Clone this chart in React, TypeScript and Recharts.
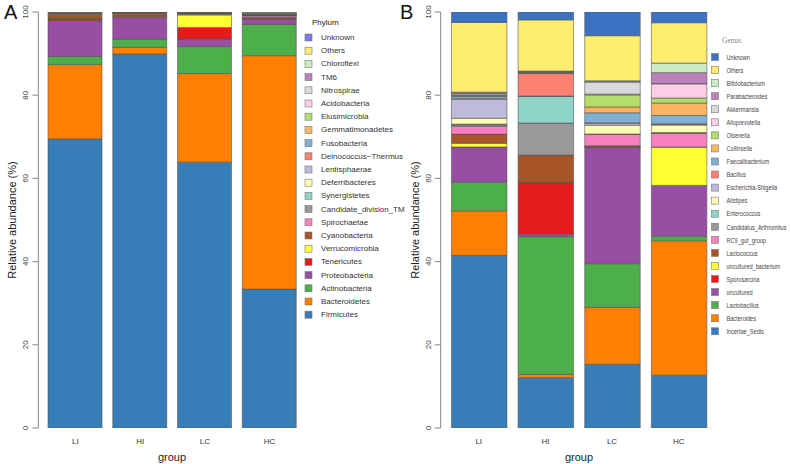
import { Bar, BarChart, XAxis, YAxis } from "recharts";

const groups = ["LI", "HI", "LC", "HC"];
const yTicks = [0, 20, 40, 60, 80, 100];

// phylum level, stacked bottom -> top
const phyla = [
  "Firmicutes", "Bacteroidetes", "Actinobacteria", "Proteobacteria", "Tenericutes",
  "Verrucomicrobia", "Cyanobacteria", "Spirochaetae", "Candidate_division_TM", "Synergistetes",
  "Deferribacteres", "Lentisphaerae", "Deinococcus\u2212Thermus", "Fusobacteria", "Gemmatimonadetes",
  "Elusimicrobia", "Acidobacteria", "Nitrospirae", "TM6", "Chloroflexi", "Others", "Unknown",
];
const phylumColors = [
  "#377eb8", "#ff7f00", "#4daf4a", "#984ea3", "#e41a1c",
  "#ffff33", "#a65628", "#f781bf", "#999999", "#8dd3c7",
  "#ffffb3", "#bebada", "#fb8072", "#80b1d3", "#fdb462",
  "#b3de69", "#fccde5", "#d9d9d9", "#bc80bd", "#ccebc5", "#ffed6f", "#7b7bec",
];
const phylumLI = [69.5, 17.9, 1.9, 8.6, 0.6, 0.05, 0.9, 0.15, 0.1, 0.05, 0.1, 0.02, 0.01, 0.01, 0.01, 0.01, 0.01, 0.01, 0.01, 0.01, 0.05, 0.01];
const phylumHI = [89.9, 1.6, 2.0, 5.2, 0.3, 0.05, 0.6, 0.1, 0.1, 0.02, 0.02, 0.01, 0.01, 0.01, 0.01, 0.01, 0.01, 0.01, 0.01, 0.01, 0.02, 0.01];
const phylumLC = [63.9, 21.3, 6.5, 1.8, 2.8, 3.0, 0.1, 0.2, 0.15, 0.05, 0.05, 0.01, 0.01, 0.01, 0.01, 0.01, 0.01, 0.01, 0.01, 0.01, 0.05, 0.01];
const phylumHC = [33.4, 56.1, 7.5, 1.2, 0.3, 0.05, 0.1, 0.4, 0.2, 0.05, 0.05, 0.02, 0.02, 0.02, 0.02, 0.02, 0.05, 0.05, 0.05, 0.05, 0.3, 0.02];

// genus level, stacked bottom -> top
const genera = [
  "Incertae_Sedis", "Bacteroides", "Lactobacillus", "uncultured", "Sporosarcina",
  "uncultured_bacterium", "Lactococcus", "RC9_gut_group", "Candidatus_Arthromitus", "Enterococcus",
  "Alistipes", "Escherichia-Shigella", "Bacillus", "Faecalibacterium", "Collinsella",
  "Olsenella", "Alloprevotella", "Akkermansia", "Parabacteroides", "Bifidobacterium", "Others", "Unknown",
];
const genusColors = [
  "#377eb8", "#ff7f00", "#4daf4a", "#984ea3", "#e41a1c",
  "#ffff33", "#a65628", "#f781bf", "#999999", "#8dd3c7",
  "#ffffb3", "#bebada", "#fb8072", "#80b1d3", "#fdb462",
  "#b3de69", "#fccde5", "#d9d9d9", "#bc80bd", "#ccebc5", "#ffed6f", "#3b72c2",
];
const genusLI = [41.5, 10.7, 6.9, 8.4, 0.05, 0.9, 2.2, 1.9, 0.3, 0.2, 1.4, 4.6, 0.1, 0.5, 0.1, 0.2, 0.1, 0.3, 0.2, 0.2, 16.75, 2.5];
const genusHI = [12.1, 0.8, 33.1, 0.6, 12.4, 0.1, 6.4, 0.1, 7.7, 6.4, 0.05, 0.05, 5.4, 0.1, 0.1, 0.05, 0.05, 0.1, 0.1, 0.1, 12.3, 1.9];
const genusLC = [15.3, 13.7, 10.5, 28.0, 0.02, 0.05, 0.3, 2.7, 0.05, 0.05, 2.1, 0.5, 0.1, 2.4, 1.4, 2.9, 0.2, 2.9, 0.1, 0.2, 10.83, 5.7];
const genusHC = [12.7, 32.3, 1.1, 12.2, 0.02, 9.2, 0.05, 3.3, 0.05, 0.1, 1.8, 0.2, 0.1, 2.0, 3.0, 1.2, 3.4, 0.1, 2.6, 2.3, 9.7, 2.58];

const FONT = "'Liberation Sans', Arial, sans-serif";

function XTick(props: any) {
  const { x, payload } = props;
  return (
    <text x={x} y={444} textAnchor="middle" fontSize={8} fill="#333" fontFamily={FONT}>
      {payload.value}
    </text>
  );
}

function YTick(props: any) {
  const { x, y, payload } = props;
  const tx = x - 2;
  return (
    <text x={tx} y={y} textAnchor="middle" fontSize={8} fill="#444" fontFamily={FONT}
      transform={`rotate(-90, ${tx}, ${y})`}>
      {payload.value}
    </text>
  );
}

function Panel(props: any) {
  const { left, width, axisX, bandStart, barSize, names, colors, values } = props;
  const data = groups.map((g, gi) => {
    const row: Record<string, any> = { group: g };
    names.forEach((n: string, i: number) => (row[n] = values[gi][i]));
    return row;
  });
  return (
    <div style={{ position: "absolute", left, top: 0 }}>
      <BarChart width={width} height={464} data={data} barSize={barSize}
        margin={{ top: 12, right: 0, bottom: 0, left: axisX - left - 30 }}>
        <XAxis dataKey="group" axisLine={false} tickLine={false} height={36} interval={0}
          padding={{ left: bandStart - axisX, right: 0 }} tick={<XTick />} />
        <YAxis type="number" domain={[0, 100]} ticks={yTicks} width={30} allowDataOverflow
          stroke="#888" tickSize={6} tick={<YTick />} />
        {names.map((n: string, i: number) => (
          <Bar key={n} dataKey={n} stackId="s" fill={colors[i]} stroke="#555" strokeWidth={0.6}
            isAnimationActive={false} />
        ))}
      </BarChart>
    </div>
  );
}

function LegendBlock(props: any) {
  const { x, textX, titleX, titleY, firstY, step, title, titleStyle, names, colors, fontSize, squeeze, textFill } = props;
  const order = names.map((n: string, i: number) => i).reverse();
  return (
    <g>
      <text x={titleX} y={titleY} dominantBaseline="central" {...titleStyle}>{title}</text>
      {order.map((i: number, k: number) => {
        const y = firstY + k * step;
        return (
          <g key={names[i]}>
            <rect x={x} y={y - 3.5} width={7} height={7} fill={colors[i]} stroke="#777" strokeWidth={0.6} />
            <text x={0} y={0} dominantBaseline="central" fontSize={fontSize}
              transform={`translate(${textX}, ${y}) scale(${squeeze}, 1)`}
              fill={textFill} fontFamily={FONT}>{names[i]}</text>
          </g>
        );
      })}
    </g>
  );
}

export default function App() {
  return (
    <div style={{ position: "absolute", left: 0, top: 0, width: 791, height: 464, background: "#fff", overflow: "hidden" }}>
      <Panel left={0} width={302} axisX={38.3} bandStart={43} barSize={54}
        names={phyla} colors={phylumColors} values={[phylumLI, phylumHI, phylumLC, phylumHC]} />
      <Panel left={400} width={312} axisX={440.7} bandStart={445.45} barSize={55.5}
        names={genera} colors={genusColors} values={[genusLI, genusHI, genusLC, genusHC]} />
      <svg width={791} height={464} style={{ position: "absolute", left: 0, top: 0, pointerEvents: "none" }}>
        <text x={4} y={19} fontSize={20} fontFamily={FONT} fill="#111">A</text>
        <text x={400} y={19} fontSize={20} fontFamily={FONT} fill="#111">B</text>
        <text x={16} y={220} textAnchor="middle" fontSize={11} fontFamily={FONT} fill="#222"
          transform="rotate(-90, 16, 220)">Relative abundance (%)</text>
        <text x={418.5} y={220} textAnchor="middle" fontSize={11} fontFamily={FONT} fill="#222"
          transform="rotate(-90, 418.5, 220)">Relative abundance (%)</text>
        <text x={172} y={461} textAnchor="middle" fontSize={11} fontFamily={FONT} fill="#222">group</text>
        <text x={579} y={461} textAnchor="middle" fontSize={11} fontFamily={FONT} fill="#222">group</text>
        <LegendBlock x={305} textX={321} titleX={312} titleY={22.7} firstY={37.5} step={13.2}
          title="Phylum" titleStyle={{ fontSize: 8, fontFamily: FONT, fill: "#222" }}
          names={phyla} colors={phylumColors} fontSize={8} squeeze={1} textFill="#333" />
        <LegendBlock x={711.5} textX={726.5} titleX={722} titleY={40} step={13.06} firstY={57}
          title="Genus" titleStyle={{ fontSize: 7.5, fontFamily: "'Liberation Serif', serif", fill: "#888" }}
          names={genera} colors={genusColors} fontSize={7} squeeze={0.8} textFill="#444" />
      </svg>
    </div>
  );
}
